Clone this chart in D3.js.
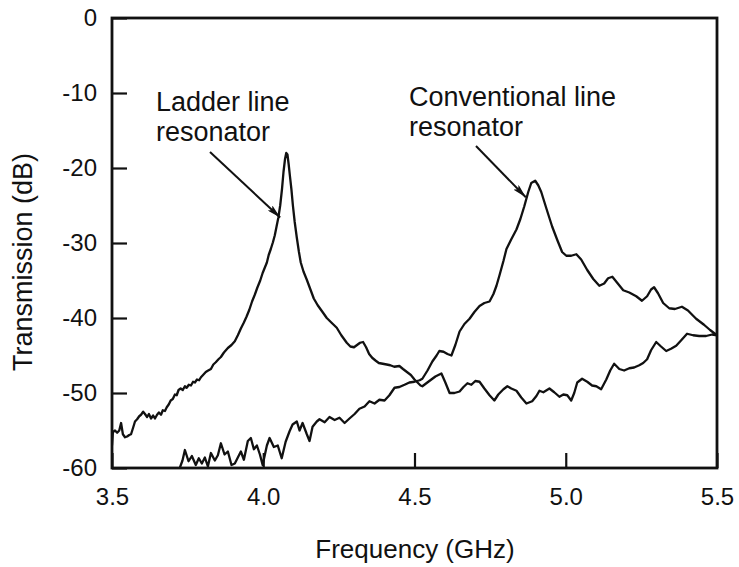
<!DOCTYPE html>
<html>
<head>
<meta charset="utf-8">
<script src="https://cdn.jsdelivr.net/npm/d3@7"></script>
<style>
  html, body { margin: 0; padding: 0; background: #fff; }
  svg { display: block; }
  text { font-family: "Liberation Sans", Arial, Helvetica, sans-serif; fill: #111; }
</style>
</head>
<body>
<svg id="chart" width="739" height="567"></svg>
<script>
// Ladder line resonator: frequency (GHz) and transmission (dB)
const ladderFreq = [
  3.500,3.503,3.510,3.517,3.524,3.530,3.536,3.543,3.550,3.557,3.563,3.570,3.576,3.583,3.590,3.596,
  3.603,3.609,3.616,3.622,3.629,3.636,3.642,3.649,3.655,3.662,3.668,3.675,3.681,3.688,3.694,3.701,
  3.708,3.714,3.720,3.727,3.734,3.741,3.747,3.754,3.761,3.768,3.774,3.781,3.788,3.794,3.801,3.810,
  3.818,3.827,3.835,3.843,3.852,3.860,3.870,3.883,3.895,3.906,3.916,3.926,3.936,3.945,3.954,3.963,
  3.972,3.980,3.990,3.998,4.006,4.012,4.018,4.025,4.032,4.038,4.044,4.050,4.056,4.062,4.067,4.072,
  4.076,4.080,4.084,4.088,4.093,4.098,4.104,4.111,4.118,4.124,4.133,4.144,4.156,4.167,4.180,4.196,
  4.210,4.225,4.243,4.258,4.276,4.288,4.300,4.310,4.320,4.330,4.340,4.350,4.360,4.372,4.382,4.395,
  4.408,4.420,4.433,4.450,4.462,4.475,4.488,4.500,4.510,4.520,4.526,
  4.549,4.569,4.589,4.602,4.616,4.632,4.649,4.662,4.675,4.688,4.701,4.715,4.731,4.748,4.764,4.777,
  4.794,4.807,4.820,4.837,4.853,4.870,4.889,4.903,4.913,4.926,4.946,4.962,4.979,4.992,5.005,5.018,
  5.028,5.038,5.054,5.071,5.087,5.101,5.117,5.134,5.147,5.160,5.177,5.193,5.210,5.226,5.243,5.256,
  5.269,5.282,5.299,5.315,5.332,5.348,5.365,5.381,5.401,5.421,5.441,5.464,5.484,5.500
];
const ladderDb = [
  -57.0,-55.2,-55.0,-55.3,-55.0,-54.0,-55.5,-55.9,-55.8,-55.6,-55.5,-54.6,-53.8,-53.5,-53.1,-52.9,
  -52.5,-52.8,-53.2,-52.8,-53.4,-53.0,-53.4,-52.9,-52.6,-52.9,-52.3,-52.4,-51.9,-51.5,-51.0,-50.8,
  -50.2,-50.3,-49.6,-49.4,-49.6,-49.1,-49.3,-48.9,-49.0,-48.5,-48.6,-48.2,-48.3,-47.9,-47.6,-47.2,
  -47.0,-46.8,-46.2,-45.9,-45.5,-45.2,-44.6,-44.0,-43.6,-43.1,-42.3,-41.4,-40.6,-39.8,-38.9,-37.8,
  -36.9,-36.0,-35.0,-34.0,-33.2,-32.6,-31.6,-30.8,-29.9,-29.0,-27.8,-26.6,-25.0,-22.8,-20.5,-18.8,
  -18.0,-18.2,-19.5,-21.0,-22.8,-25.0,-27.2,-29.3,-31.2,-32.6,-33.8,-34.9,-36.2,-37.4,-38.3,-39.2,
  -40.0,-40.6,-41.3,-42.3,-43.3,-43.8,-43.9,-43.6,-43.3,-43.2,-43.9,-44.8,-45.3,-45.7,-46.0,-46.1,
  -46.2,-46.3,-46.5,-46.4,-46.8,-47.2,-47.6,-48.2,-48.6,-49.0,-49.1,
  -48.4,-47.8,-47.4,-48.6,-50.0,-50.0,-49.8,-49.2,-48.7,-48.9,-48.4,-48.5,-49.4,-50.3,-51.0,-50.2,
  -49.5,-49.1,-49.4,-49.7,-50.6,-51.4,-51.1,-50.4,-49.7,-49.9,-49.4,-49.9,-50.5,-50.2,-50.3,-51.0,
  -50.0,-48.6,-48.1,-48.5,-49.0,-49.1,-49.5,-48.2,-47.0,-46.1,-46.8,-47.0,-46.7,-46.6,-46.3,-46.0,
  -45.5,-44.3,-43.2,-43.8,-44.4,-44.1,-43.7,-43.0,-42.1,-42.3,-42.4,-42.4,-42.2,-42.3
];

// Conventional line resonator: frequency (GHz) and transmission (dB)
const convFreq = [
  3.724,3.733,3.741,3.753,3.764,3.777,3.787,3.797,3.807,3.817,3.827,3.840,3.850,3.860,3.872,3.883,
  3.895,3.906,3.916,3.926,3.936,3.949,3.959,3.969,3.979,3.989,3.998,4.012,4.021,4.035,4.048,4.061,
  4.074,4.087,4.097,4.111,4.120,4.130,4.144,4.153,4.163,4.177,4.186,4.203,4.219,4.236,4.252,4.269,
  4.285,4.302,4.318,4.335,4.351,4.368,4.384,4.401,4.417,4.434,4.450,4.467,4.483,4.500,4.517,
  4.526,4.543,4.559,4.573,4.582,4.596,4.609,4.622,4.635,4.649,4.665,4.682,4.698,4.715,4.731,4.748,
  4.761,4.771,4.781,4.794,4.804,4.820,4.837,4.850,4.863,4.876,4.886,4.899,4.909,4.919,4.936,4.955,
  4.972,4.988,5.002,5.018,5.035,5.051,5.071,5.091,5.111,5.127,5.140,5.154,5.170,5.190,5.210,5.233,
  5.252,5.269,5.282,5.292,5.305,5.322,5.342,5.361,5.384,5.404,5.431,5.457,5.477,5.500
];
const convDb = [
  -60.0,-59.0,-57.6,-59.1,-58.4,-59.6,-58.7,-59.4,-58.6,-59.8,-58.0,-59.0,-58.3,-56.7,-58.2,-57.8,
  -59.6,-59.4,-58.6,-57.8,-58.9,-56.4,-56.0,-57.5,-57.0,-58.2,-59.6,-57.0,-56.0,-57.2,-57.0,-58.7,
  -56.5,-55.1,-54.2,-53.8,-55.0,-54.0,-55.5,-56.4,-54.5,-53.8,-53.5,-53.9,-53.2,-53.6,-53.3,-54.0,
  -53.4,-52.8,-52.1,-51.8,-51.1,-51.4,-50.9,-51.0,-50.3,-49.3,-49.2,-48.9,-48.6,-48.5,-48.3,
  -48.1,-47.0,-45.8,-45.0,-44.4,-44.5,-44.8,-45.0,-43.6,-41.8,-40.8,-40.1,-39.2,-38.4,-38.0,-37.8,
  -36.8,-35.7,-34.3,-32.4,-30.8,-29.5,-28.2,-26.8,-25.1,-23.2,-22.0,-21.7,-22.3,-23.2,-25.4,-27.8,
  -29.6,-31.2,-31.7,-31.7,-31.5,-32.2,-33.6,-34.8,-35.7,-35.4,-34.7,-34.5,-35.3,-36.3,-36.6,-37.1,
  -37.7,-37.1,-36.2,-35.9,-36.7,-38.0,-38.7,-38.8,-38.5,-39.0,-40.1,-40.9,-41.6,-42.3
];

// Axis ticks
const xTicks = [3.5, 4.0, 4.5, 5.0, 5.5];
const yTicks = [0, -10, -20, -30, -40, -50, -60];

// Annotation labels: text lines and the point each arrow targets (GHz, dB)
const ladderLabel = ["Ladder line", "resonator"];
const convLabel = ["Conventional line", "resonator"];
const ladderArrowTip = [4.056, -26.6];
const convArrowTip = [4.868, -23.9];

const svg = d3.select("#chart");
const plotLeft = 112, plotRight = 717, plotTop = 18, plotBottom = 468;

const x = d3.scaleLinear().domain([3.5, 5.5]).range([plotLeft, plotRight]);
const y = d3.scaleLinear().domain([-60, 0]).range([plotBottom, plotTop]);

const defs = svg.append("defs");
defs.append("clipPath").attr("id", "plotClip")
  .append("rect").attr("x", plotLeft).attr("y", plotTop)
  .attr("width", plotRight - plotLeft).attr("height", plotBottom - plotTop);

defs.append("marker")
  .attr("id", "arrowHead").attr("viewBox", "0 0 14 7")
  .attr("refX", 14).attr("refY", 3.5)
  .attr("markerWidth", 14).attr("markerHeight", 7)
  .attr("markerUnits", "userSpaceOnUse").attr("orient", "auto")
  .append("path").attr("d", "M0,0 L14,3.5 L0,7 L3,3.5 Z").attr("fill", "#111");

// Curves
const line = d3.line().x(d => x(d[0])).y(d => y(d[1]));
const ladderPts = ladderFreq.map((f, i) => [f, ladderDb[i]]);
const convPts = convFreq.map((f, i) => [f, convDb[i]]);

const curves = svg.append("g").attr("clip-path", "url(#plotClip)");
[ladderPts, convPts].forEach(pts => {
  curves.append("path").datum(pts).attr("d", line)
    .attr("fill", "none").attr("stroke", "#111")
    .attr("stroke-width", 2.3).attr("stroke-linejoin", "round");
});

// Axes: inward ticks on the left and bottom edges
const xAxis = d3.axisBottom(x).tickValues(xTicks).tickFormat(d3.format(".1f"))
  .tickSizeInner(-15).tickSizeOuter(0).tickPadding(20);
const yAxis = d3.axisLeft(y).tickValues(yTicks).tickFormat(d => String(d))
  .tickSizeInner(-15).tickSizeOuter(0).tickPadding(15);

const gx = svg.append("g").attr("transform", `translate(0,${plotBottom})`).call(xAxis);
const gy = svg.append("g").attr("transform", `translate(${plotLeft},0)`).call(yAxis);
[gx, gy].forEach(g => {
  g.select(".domain").remove();
  g.selectAll(".tick line").attr("stroke", "#111").attr("stroke-width", 2.2);
  g.selectAll(".tick text").attr("font-size", 24).attr("fill", "#111")
    .attr("font-family", "'Liberation Sans', Arial, sans-serif");
});

// Frame
svg.append("rect").attr("x", plotLeft).attr("y", plotTop)
  .attr("width", plotRight - plotLeft).attr("height", plotBottom - plotTop)
  .attr("fill", "none").attr("stroke", "#111").attr("stroke-width", 2.8);

// Axis titles
svg.append("text").attr("x", 415).attr("y", 558)
  .attr("text-anchor", "middle").attr("font-size", 26).text("Frequency (GHz)");
svg.append("text")
  .attr("transform", "translate(32,262) rotate(-90)")
  .attr("text-anchor", "middle").attr("font-size", 27).text("Transmission (dB)");

// Annotations
function annotate(lines, lx, ly, tip, from) {
  const t = svg.append("text").attr("x", lx).attr("y", ly).attr("font-size", 27);
  lines.forEach((s, i) => t.append("tspan").attr("x", lx).attr("dy", i ? 30 : 0).text(s));
  svg.append("line").attr("x1", from[0]).attr("y1", from[1])
    .attr("x2", x(tip[0])).attr("y2", y(tip[1]))
    .attr("stroke", "#111").attr("stroke-width", 2)
    .attr("marker-end", "url(#arrowHead)");
}
annotate(ladderLabel, 156, 111, ladderArrowTip, [210, 152]);
annotate(convLabel, 409, 106, convArrowTip, [476, 146]);
</script>
</body>
</html>
